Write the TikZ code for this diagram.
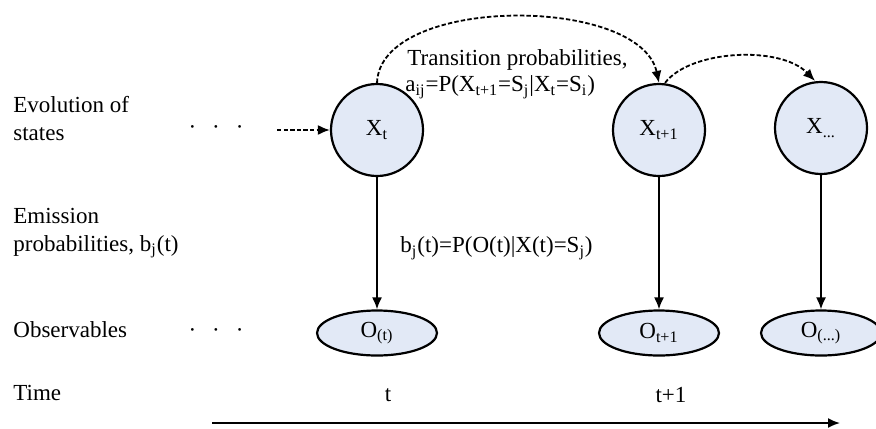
\documentclass[tikz,border=0pt]{standalone}
\usepackage{fontspec}
\setmainfont{Liberation Serif}
\usetikzlibrary{arrows.meta,positioning,shapes.geometric}
\definecolor{statefill}{RGB}{226,233,246}

\begin{document}
\begin{tikzpicture}[
    x=0.5pt, y=-0.5pt,
    >={Latex[length=6pt,width=5pt]},
    every node/.style={font=\fontsize{11.5}{14}\selectfont},
    state/.style={draw, circle, line width=1.1pt, fill=statefill, minimum size=46pt, inner sep=0pt},
    obs/.style={draw, ellipse, line width=1.1pt, fill=statefill, minimum width=60pt, minimum height=22.5pt, inner sep=0pt},
    rowlabel/.style={anchor=west, align=left, inner sep=0pt},
    trans/.style={->, line width=0.9pt, dash pattern=on 2.2pt off 1.1pt},
    emit/.style={->, line width=0.9pt}
  ]
  \useasboundingbox (0,0) rectangle (876,428);

  %------------------ Row labels ------------------%
  \node[rowlabel] (lstates) at (13,119) {Evolution of\\states};
  \node[rowlabel] (lemis) at (13,233) {Emission\\probabilities, b\textsubscript{j}(t)};
  \node[rowlabel] (lobs) at (13,330) {Observables};
  \node[rowlabel] (ltime) at (13,393) {Time};

  % Dots
  \node (sdots) at (216,130) {·\hspace{8pt}·\hspace{8pt}·};
  \node (odots) at (216,333) {·\hspace{8pt}·\hspace{8pt}·};

  %------------------ States ------------------%
  \node[state] (xt) at (377,130) {X\textsubscript{t}};
  \node[state] (xt1) at (659,130) {X\textsubscript{t+1}};
  \node[state] (xd) at (821,128) {X\textsubscript{...}};

  % Observables
  \node[obs] (ot) at (377,333) {O\textsubscript{(t)}};
  \node[obs] (ot1) at (659,333) {O\textsubscript{t+1}};
  \node[obs] (od) at (821,333) {O\textsubscript{(...)}};

  % Transition and emission texts
  \node[rowlabel] (ttrans) at (407,60) {Transition probabilities,};
  \node[rowlabel] (taij) at (405,87) {a\textsubscript{ij}=P(X\textsubscript{t+1}=S\textsubscript{j}|X\textsubscript{t}=S\textsubscript{i})};
  \node[rowlabel] (tbj) at (400,248) {b\textsubscript{j}(t)=P(O(t)|X(t)=S\textsubscript{j})};

  % Time ticks
  \node (tt) at (388,395) {t};
  \node (tt1) at (671,395) {t+1};

  %------------------ Connectors ------------------%
  \coordinate (entry) at (277,130);
  \draw[trans] (entry) -- (xt);
  \draw[trans] (xt.north) .. controls (380,-5) and (640,-5) .. (xt1.north);
  \draw[trans] ([xshift=3pt]xt1.north) .. controls (690,50) and (780,45) .. ([xshift=-3pt]xd.north);

  \draw[emit] (xt) -- (ot);
  \draw[emit] (xt1) -- (ot1);
  \draw[emit] (xd) -- (od);

  % Time axis
  \coordinate (tstart) at (212,423);
  \coordinate (tend) at (840,423);
  \draw[emit] (tstart) -- (tend);

\end{tikzpicture}
\end{document}
